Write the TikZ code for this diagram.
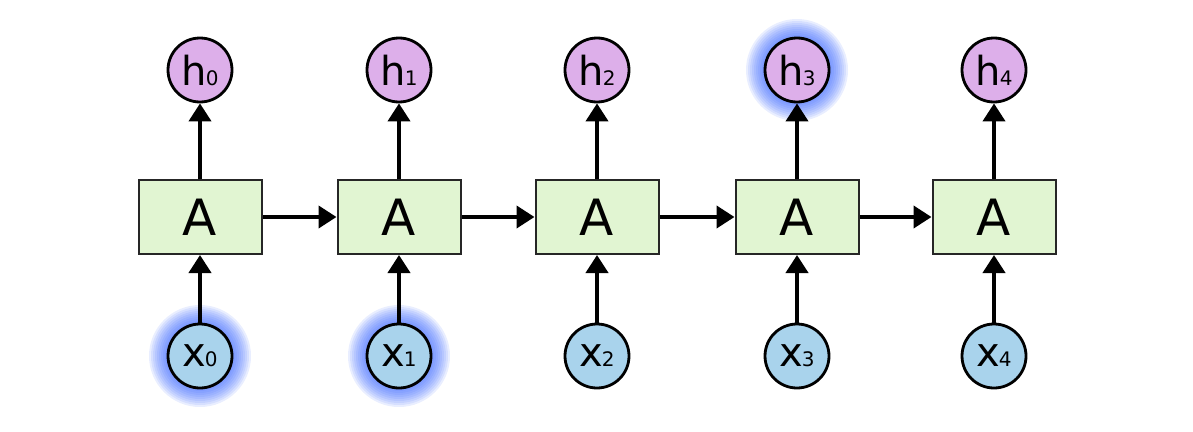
\documentclass[tikz,border=0pt]{standalone}
\usepackage{fontspec}
\setmainfont{DejaVu Sans}
\usetikzlibrary{arrows.meta}
\definecolor{boxgreen}{HTML}{E1F5D2}
\definecolor{hviolet}{HTML}{DDAFEA}
\definecolor{xblue}{HTML}{A9D3EC}
\definecolor{glowblue}{HTML}{3A66FF}
\tikzset{
  cell/.style={draw=black!85, line width=2pt, fill=boxgreen, minimum width=123pt, minimum height=74pt, inner sep=0pt, font=\fontsize{50}{50}\selectfont},
  hnode/.style={circle, draw=black, line width=2.8pt, fill=hviolet, minimum size=64pt, inner sep=0pt},
  xnode/.style={circle, draw=black, line width=2.8pt, fill=xblue, minimum size=64pt, inner sep=0pt},
  conn/.style={line width=4pt, -{Triangle[length=18pt,width=22pt]}},
  glowlayer/.style={fill=glowblue, opacity=0.11},
}
\newcommand{\lab}[2]{{\fontsize{40}{40}\selectfont #1}\kern-1pt{\fontsize{20}{20}\selectfont #2}}
\newcommand{\glowat}[1]{\foreach \r in {33,35,...,51}{\fill[glowlayer] #1 circle (\r);}}
\begin{document}
\begin{tikzpicture}[x=1pt,y=-1pt]
\useasboundingbox (0,0) rectangle (1193,431);
% glows
\glowat{(200,356)}
\glowat{(399,356)}
\glowat{(797,70)}
\foreach \i/\x in {0/200,1/399,2/597,3/797,4/994}{
  \node[cell] (a\i) at (\x,217) {A};
  \node[hnode] (h\i) at (\x,70) {\lab{h}{\i}};
  \node[xnode] (x\i) at (\x,356) {\lab{x}{\i}};
  \draw[conn] (a\i.north) -- (h\i.south);
  \draw[conn] (x\i.north) -- (a\i.south);
}
\foreach \i/\j in {0/1,1/2,2/3,3/4}{
  \draw[conn] (a\i.east) -- (a\j.west);
}
\end{tikzpicture}
\end{document}
